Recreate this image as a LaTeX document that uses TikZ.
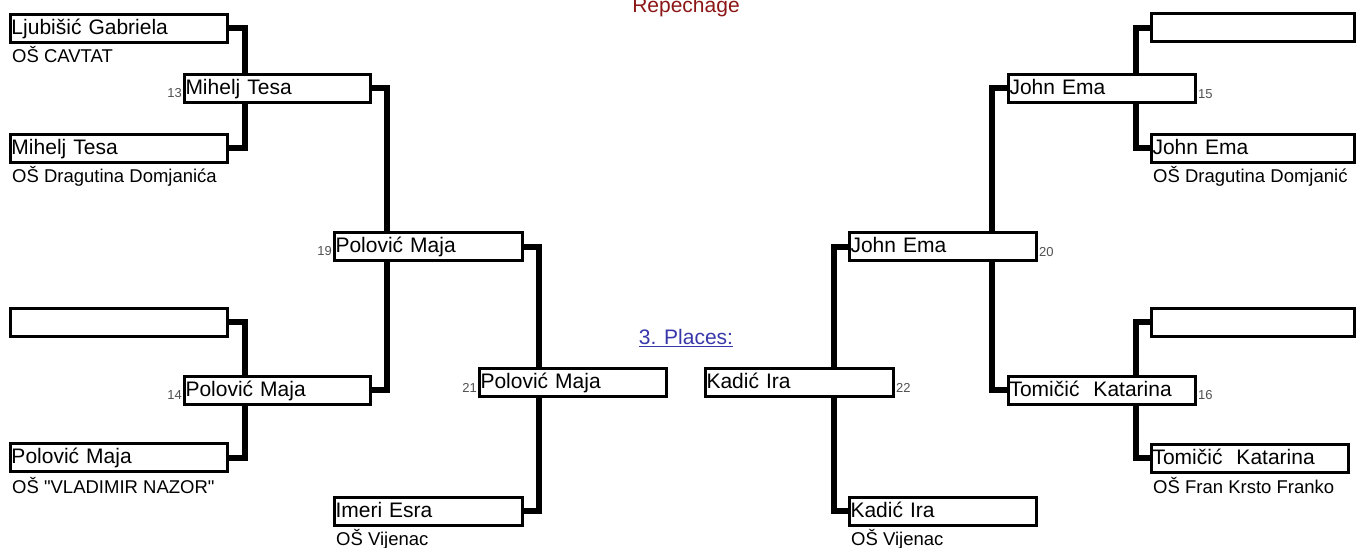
\documentclass[tikz,border=0pt]{standalone}
\usepackage{fontspec}
\setmainfont{Liberation Sans}[Ligatures=TeXOff]
\usetikzlibrary{calc}
\definecolor{repred}{RGB}{140,22,22}
\definecolor{placeblue}{RGB}{55,55,170}
\definecolor{numgray}{RGB}{80,80,80}
\begin{document}
\begin{tikzpicture}[x=1pt,y=-1pt,
  box/.style={draw, line width=3pt, outer sep=0pt, inner xsep=1pt, inner ysep=0pt,
    anchor=west, minimum height=28pt, text width=#1, align=left,
    font=\fontsize{21}{25}\selectfont, text height=16pt, text depth=4pt},
  sub/.style={anchor=base west, inner sep=0pt, font=\fontsize{18.5}{21}\selectfont},
  numl/.style={anchor=base east, inner sep=0pt, text=numgray, font=\fontsize{13}{15}\selectfont},
  numr/.style={anchor=base west, inner sep=0pt, text=numgray, font=\fontsize{13}{15}\selectfont},
  conn/.style={line width=6pt, line join=miter},
  title/.style={anchor=base, inner sep=0pt, font=\fontsize{21}{25}\selectfont}]
\useasboundingbox (0,0) rectangle (1364,547);

% boxes, left half
\node[box=215pt] (A) at (10.5,28) {Ljubišić Gabriela};
\node[box=215pt] (B) at (10.5,148) {Mihelj Tesa};
\node[box=215pt] (C) at (10.5,322) {};
\node[box=215pt] (D) at (10.5,457.5) {Polović Maja};
\node[box=184pt] (m13) at (184.5,88) {Mihelj Tesa};
\node[box=184pt] (m14) at (184.5,390) {Polović Maja};
\node[box=186pt] (b19) at (334.5,246.5) {Polović Maja};
\node[box=186pt] (imeri) at (334.5,511) {Imeri Esra};
\node[box=185pt] (b21) at (479.5,382.5) {Polović Maja};

% boxes, right half
\node[box=186pt] (b22) at (705.5,382.5) {Kadić Ira};
\node[box=185pt] (b20) at (849.5,246.5) {John Ema};
\node[box=185pt] (kadb) at (849.5,511) {Kadić Ira};
\node[box=185pt] (b15) at (1008.5,88) {John Ema};
\node[box=185pt] (b16) at (1008.5,390) {Tomičić\ \ Katarina};
\node[box=201pt] (E) at (1151.5,27.5) {};
\node[box=201pt] (F) at (1151.5,148) {John Ema};
\node[box=201pt] (G) at (1151.5,322) {};
\node[box=195pt] (H) at (1151.5,458) {Tomičić\ \ Katarina};

% school labels
\node[sub] (sA) at (12,62) {OŠ CAVTAT};
\node[sub] (sB) at (12,182) {OŠ Dragutina Domjanića};
\node[sub] (sD) at (12,493) {OŠ "VLADIMIR NAZOR"};
\node[sub] (sI) at (336,545) {OŠ Vijenac};
\node[sub] (sK) at (851,545) {OŠ Vijenac};
\node[sub] (sF) at (1153,182) {OŠ Dragutina Domjanić};
\node[sub] (sH) at (1153,493) {OŠ Fran Krsto Franko};

% match numbers
\node[numl] (n13) at ($(m13.west)+(-2.5,9.5)$) {13};
\node[numl] (n14) at ($(m14.west)+(-2.5,9.5)$) {14};
\node[numl] (n19) at ($(b19.west)+(-2.5,9)$) {19};
\node[numl] (n21) at ($(b21.west)+(-2.5,10)$) {21};
\node[numr] (n22) at ($(b22.east)+(2.5,10)$) {22};
\node[numr] (n20) at ($(b20.east)+(2.5,9.5)$) {20};
\node[numr] (n15) at ($(b15.east)+(2.5,10)$) {15};
\node[numr] (n16) at ($(b16.east)+(2.5,9.5)$) {16};

% titles
\node[title, text=repred] (rep) at (686,12) {Repechage};
\node[title, text=placeblue] (pl) at (686,344) {3. Places:};
\draw[placeblue, line width=1.3pt] ($(pl.base west)+(0,2.5)$) -- ($(pl.base east)+(0,2.5)$);

% connector columns
\coordinate (xa) at (244.5,0);
\coordinate (xb) at (386.5,0);
\coordinate (xc) at (539,0);
\coordinate (xd) at (834,0);
\coordinate (xe) at (992,0);
\coordinate (xf) at (1136,0);

\draw[conn] (A.east) -| (xa |- m13.north);
\draw[conn] (B.east) -| (xa |- m13.south);
\draw[conn] (C.east) -| (xa |- m14.north);
\draw[conn] (D.east) -| (xa |- m14.south);
\draw[conn] (m13.east) -| (xb |- b19.north);
\draw[conn] (m14.east) -| (xb |- b19.south);
\draw[conn] (b19.east) -| (xc |- b21.north);
\draw[conn] (imeri.east) -| (xc |- b21.south);
\draw[conn] (b20.west) -| (xd |- b22.north);
\draw[conn] (kadb.west) -| (xd |- b22.south);
\draw[conn] (b15.west) -| (xe |- b20.north);
\draw[conn] (b16.west) -| (xe |- b20.south);
\draw[conn] (E.west) -| (xf |- b15.north);
\draw[conn] (F.west) -| (xf |- b15.south);
\draw[conn] (G.west) -| (xf |- b16.north);
\draw[conn] (H.west) -| (xf |- b16.south);
\end{tikzpicture}
\end{document}
